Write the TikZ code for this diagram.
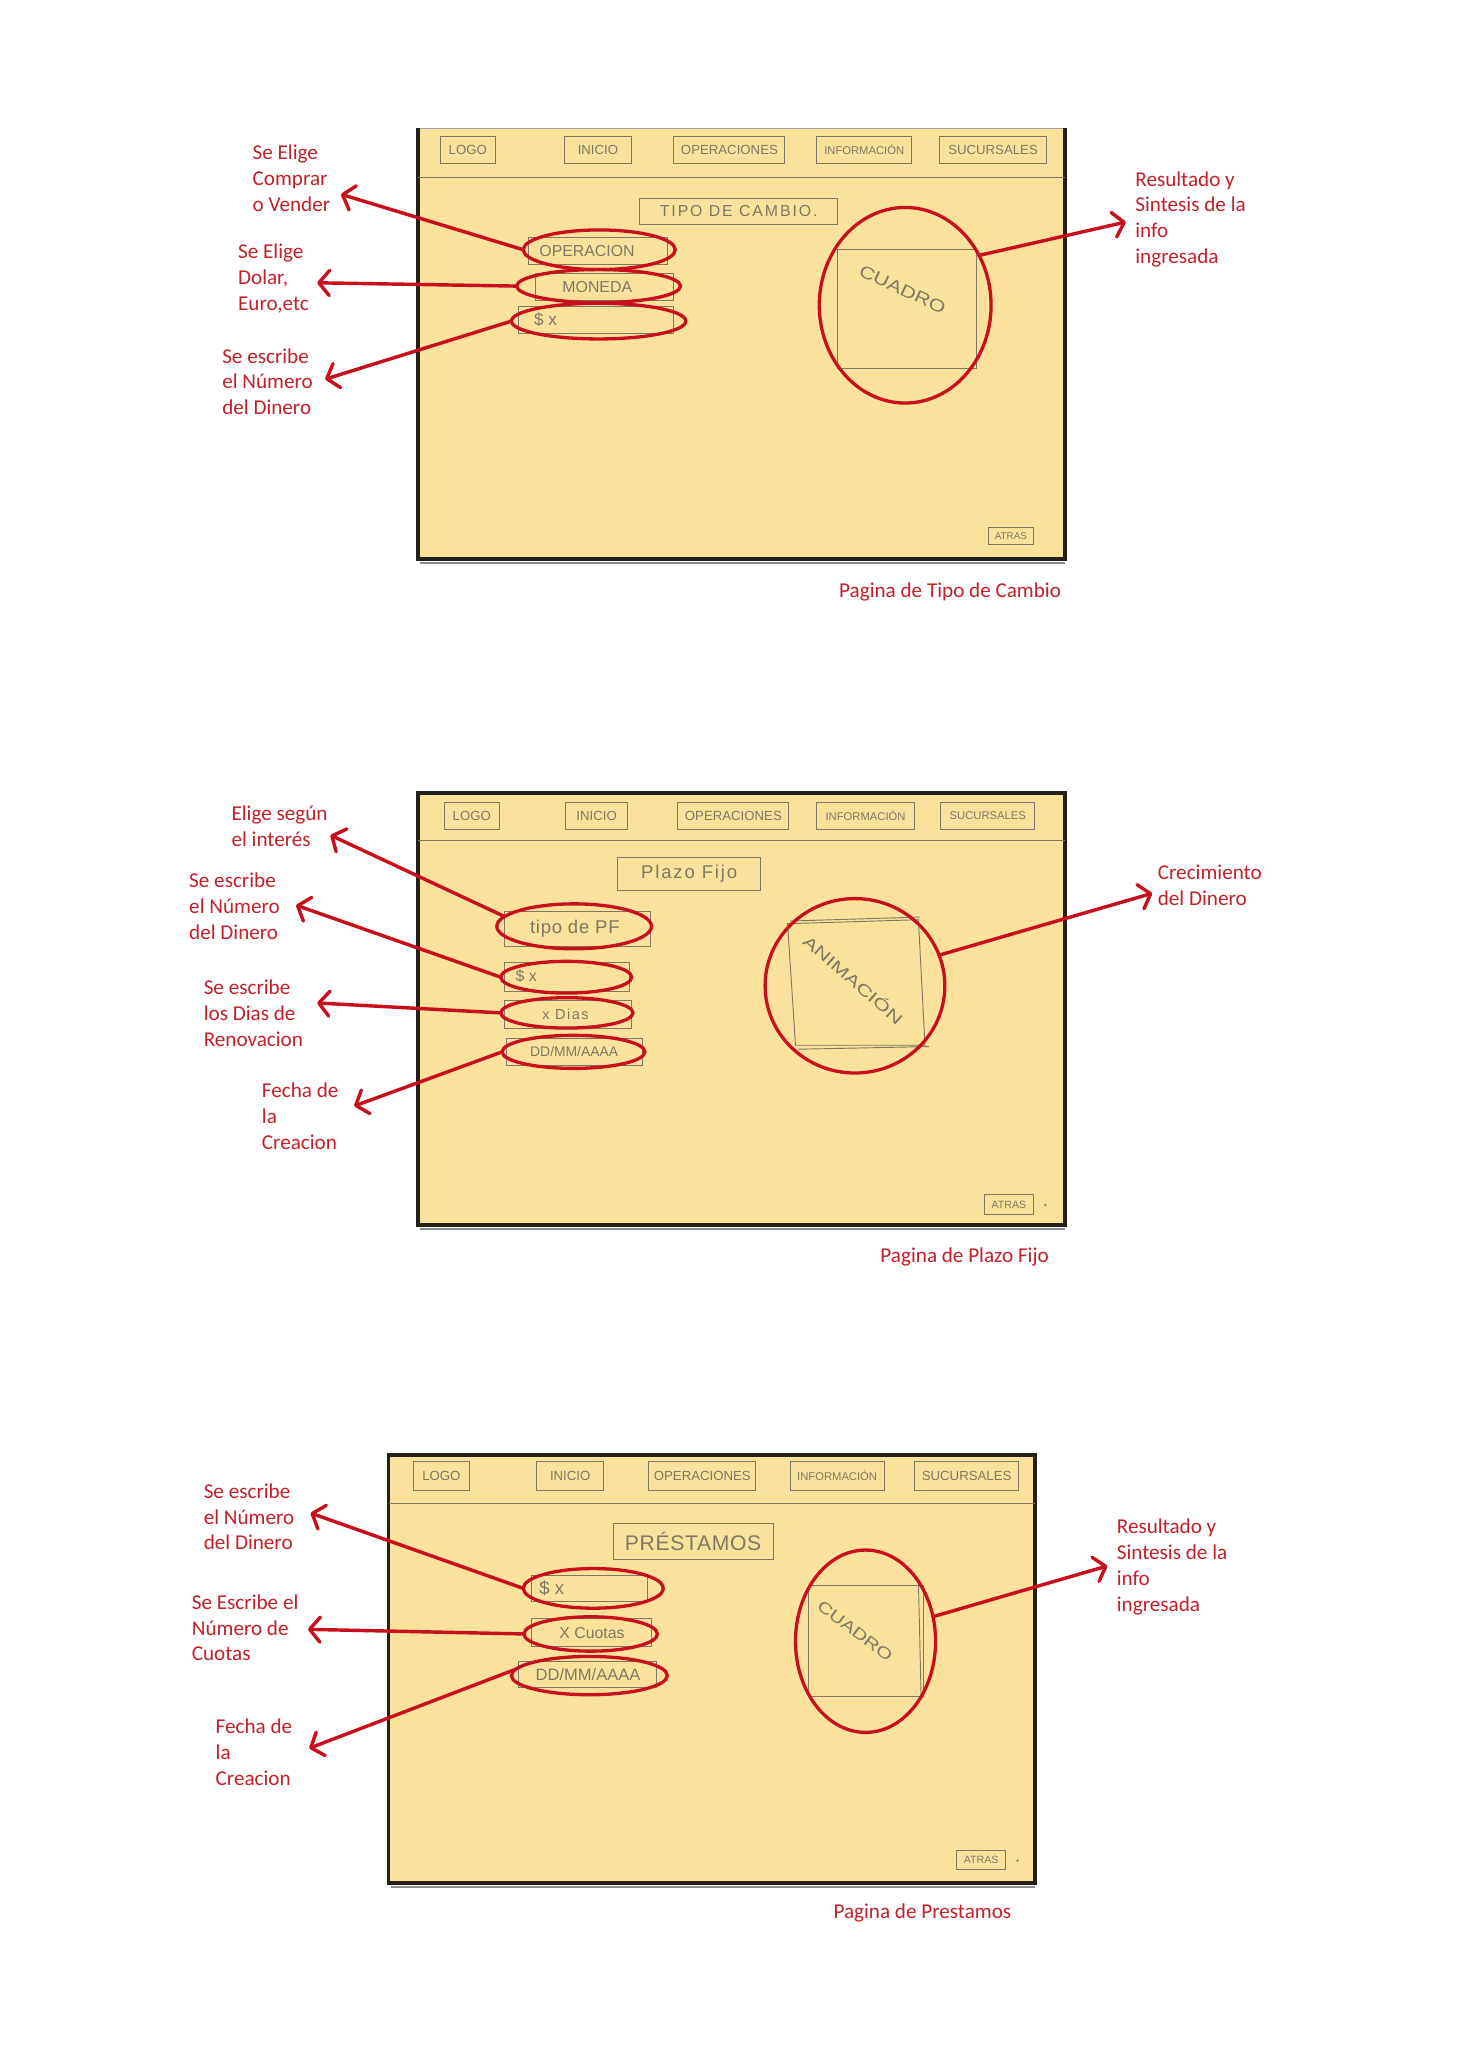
\documentclass[tikz,border=0pt]{standalone}
\usepackage{fontspec}
\setmainfont{Carlito}
\newfontfamily\pencilfont{Liberation Sans}
\usetikzlibrary{shapes.geometric,arrows.meta}
\definecolor{annred}{RGB}{200,16,28}
\definecolor{txtred}{RGB}{196,32,40}
\definecolor{paper}{RGB}{250,226,156}
\definecolor{pencil}{RGB}{128,120,100}
\definecolor{frameblk}{RGB}{38,32,26}
\begin{document}
\begin{tikzpicture}[x=1pt,y=-1pt,
 note/.style={font=\fontsize{16}{19.5}\selectfont, text=txtred, align=left, anchor=north west, inner sep=0pt},
 caption/.style={font=\fontsize{16}{19.5}\selectfont, text=txtred, inner sep=0pt},
 hoop/.style={ellipse, draw=annred, line width=2.5pt, inner sep=0pt, outer sep=0pt},
 arr/.style={draw=annred, line width=2.6pt, line cap=round, -{Straight Barb[length=8pt,width=19pt,round]}},
 sbox/.style={draw=pencil, line width=0.7pt, inner sep=0pt, text=pencil, font=\pencilfont\fontsize{10}{11}\selectfont},
 fbox/.style={draw=pencil, line width=0.7pt, inner sep=0pt},
 stext/.style={text=pencil, inner sep=0pt, font=\pencilfont\fontsize{11}{12}\selectfont},
 border/.style={draw=frameblk, line width=3pt},
 shadow/.style={draw=black!45, line width=1.5pt},
 thinline/.style={draw=pencil, line width=0.7pt},
]
\useasboundingbox (0,0) rectangle (1117,1568);
\fill[white] (0,0) rectangle (1117,1568);

% ================= PANEL 1 =================
\fill[paper] (316,97) rectangle (806,423);
\draw[draw=frameblk!40, line width=0.8pt] (316,97) -- (806,97);
\draw[border] (316,97) -- (316,423) -- (806,423) -- (806,97);
\draw[shadow] (318,426) -- (806,426);
\draw[thinline] (316,134) -- (806,134);
\node[sbox, minimum width=42pt, minimum height=21pt] (a1) at (354,113.5) {LOGO};
\node[sbox, minimum width=51pt, minimum height=21pt] (a2) at (452.5,113.5) {INICIO};
\node[sbox, minimum width=84pt, minimum height=21pt] (a3) at (552,113.5) {OPERACIONES};
\node[sbox, minimum width=72pt, minimum height=21pt, font=\pencilfont\fontsize{8.5}{9}\selectfont] (a4) at (654,113.5) {INFORMACIÓN};
\node[sbox, minimum width=81pt, minimum height=21pt] (a5) at (751.5,113.5) {SUCURSALES};
\node[sbox, minimum width=150pt, minimum height=20pt, font=\pencilfont\fontsize{12}{13}\selectfont\addfontfeature{LetterSpace=12}] (a6) at (559,160) {TIPO DE CAMBIO.};
\node[fbox, minimum width=105pt, minimum height=20pt] (a7) at (452.5,190) {};
\node[stext, anchor=west, font=\pencilfont\fontsize{12}{13}\selectfont] (a7t) at (408,190) {OPERACION};
\node[fbox, minimum width=105pt, minimum height=20pt] (a8) at (457.5,217) {};
\node[stext, font=\pencilfont\fontsize{12}{13}\selectfont] (a8t) at (452,217) {MONEDA};
\node[fbox, minimum width=118pt, minimum height=20pt] (a9) at (451,242) {};
\node[stext, anchor=west, font=\pencilfont\fontsize{13}{14}\selectfont] (a9t) at (404,242) {\$ x};
\draw[thinline] (634,189) rectangle (739,279);
\node[stext, rotate=-25, font=\pencilfont\fontsize{13}{14}\selectfont\addfontfeature{FakeStretch=1.25}] (a10) at (683,219) {CUADRO};
\node[sbox, minimum width=34pt, minimum height=13pt, font=\pencilfont\fontsize{7.5}{8}\selectfont] (a11) at (765,405.5) {ATRAS};

\node[hoop, minimum width=115pt, minimum height=30pt] (e1) at (453.5,189) {};
\node[hoop, minimum width=124pt, minimum height=25pt] (e2) at (453,216.5) {};
\node[hoop, minimum width=132pt, minimum height=27pt] (e3) at (453,243) {};
\node[hoop, minimum width=130pt, minimum height=148pt] (c1) at (685,231) {};

\node[note] (l1) at (191,109.5) {Se Elige\\Comprar\\o Vender};
\node[note] (l2) at (180,184.5) {Se Elige\\Dolar,\\Euro,etc};
\node[note] (l3) at (168,263.5) {Se escribe\\el Número\\del Dinero};
\node[note] (r1) at (859,129.5) {Resultado y\\Sintesis de la\\info\\ingresada};
\node[caption] (cap1) at (719,448) {Pagina de Tipo de Cambio};

\coordinate (t1) at (258,147);
\coordinate (t2) at (240,214);
\coordinate (t3) at (246,287);
\coordinate (tr1) at (852,168);
\draw[arr] (e1.west) -- (t1);
\draw[arr] (e2.west) -- (t2);
\draw[arr] (e3.west) -- (t3);
\draw[arr] (c1.34) -- (tr1);

% ================= PANEL 2 =================
\fill[paper] (316,600) rectangle (806,927);
\draw[border] (316,600) rectangle (806,927);
\draw[shadow] (318,930) -- (806,930);
\draw[thinline] (316,636) -- (806,636);
\node[sbox, minimum width=42pt, minimum height=21pt] (b1) at (357,617.5) {LOGO};
\node[sbox, minimum width=47pt, minimum height=21pt] (b2) at (451.5,617.5) {INICIO};
\node[sbox, minimum width=84pt, minimum height=21pt] (b3) at (555,617.5) {OPERACIONES};
\node[sbox, minimum width=74pt, minimum height=21pt, font=\pencilfont\fontsize{8.5}{9}\selectfont] (b4) at (655,617.5) {INFORMACIÓN};
\node[sbox, minimum width=71pt, minimum height=21pt, font=\pencilfont\fontsize{8.5}{9}\selectfont] (b5) at (747.5,617.5) {SUCURSALES};
\node[sbox, minimum width=108pt, minimum height=25pt, font=\pencilfont\fontsize{14}{15}\selectfont\addfontfeature{LetterSpace=10}] (b6) at (521.5,661.5) {Plazo Fijo};
\node[fbox, minimum width=110pt, minimum height=26pt] (b7) at (437,703) {};
\node[stext, font=\pencilfont\fontsize{14}{15}\selectfont\addfontfeature{LetterSpace=4}] (b7t) at (435,703) {tipo de PF};
\node[fbox, minimum width=94pt, minimum height=22pt] (b8) at (429,739) {};
\node[stext, anchor=west, font=\pencilfont\fontsize{12}{13}\selectfont] (b8t) at (390,739) {\$ x};
\node[fbox, minimum width=96pt, minimum height=21pt] (b9) at (430,767.5) {};
\node[stext, font=\pencilfont\fontsize{11}{12}\selectfont\addfontfeature{LetterSpace=10}] (b9t) at (428,767.5) {x Dias};
\node[fbox, minimum width=103pt, minimum height=20pt] (b10) at (434.5,796) {};
\node[stext, font=\pencilfont\fontsize{10.5}{11}\selectfont] (b10t) at (434.5,796) {DD/MM/AAAA};
\draw[thinline] (596,699) -- (695,696) -- (700,791) -- (602,791) -- cycle;
\draw[thinline] (598,697) -- (696,694);
\draw[thinline] (604,794) -- (703,792);
\node[stext, rotate=-41, font=\pencilfont\fontsize{12}{13}\selectfont\addfontfeature{FakeStretch=1.4}] (b11) at (646,741) {ANIMACIÓN};
\node[sbox, minimum width=37pt, minimum height=15pt, font=\pencilfont\fontsize{8}{9}\selectfont] (b12) at (763.5,911.5) {ATRAS};
\fill[pencil] (791,912) circle (1pt);

\node[hoop, minimum width=117pt, minimum height=34pt] (f1) at (434.5,701) {};
\node[hoop, minimum width=99pt, minimum height=24pt] (f2) at (428.5,739.5) {};
\node[hoop, minimum width=100pt, minimum height=23pt] (f3) at (429,766.5) {};
\node[hoop, minimum width=108pt, minimum height=25pt] (f4) at (434,796) {};
\node[hoop, minimum width=136pt, minimum height=132pt] (c2) at (647,746) {};

\node[note] (m1) at (175,609.5) {Elige según\\el interés};
\node[note] (m2) at (143,660.5) {Se escribe\\el Número\\del Dinero};
\node[note] (m3) at (154,741.5) {Se escribe\\los Dias de\\Renovacion};
\node[note] (m4) at (198,819.5) {Fecha de\\la\\Creacion};
\node[note] (mr) at (876,654.5) {Crecimiento\\del Dinero};
\node[caption] (cap2) at (730,951) {Pagina de Plazo Fijo};

\coordinate (u1) at (250,632);
\coordinate (u2) at (224,685);
\coordinate (u3) at (240,759);
\coordinate (u4) at (268,837);
\coordinate (ur) at (872,676);
\draw[arr] (f1.172) -- (u1);
\draw[arr] (f2.west) -- (u2);
\draw[arr] (f3.west) -- (u3);
\draw[arr] (f4.west) -- (u4);
\draw[arr] (c2.20) -- (ur);

% ================= PANEL 3 =================
\fill[paper] (294,1101) rectangle (783,1425);
\draw[border] (294,1101) rectangle (783,1425);
\draw[shadow] (296,1428) -- (783,1428);
\draw[thinline] (294,1138) -- (783,1138);
\node[sbox, minimum width=42pt, minimum height=22pt] (d1) at (334,1117) {LOGO};
\node[sbox, minimum width=51pt, minimum height=22pt] (d2) at (431.5,1117) {INICIO};
\node[sbox, minimum width=81pt, minimum height=22pt] (d3) at (531.5,1117) {OPERACIONES};
\node[sbox, minimum width=71pt, minimum height=22pt, font=\pencilfont\fontsize{8.5}{9}\selectfont] (d4) at (633.5,1117) {INFORMACIÓN};
\node[sbox, minimum width=79pt, minimum height=22pt] (d5) at (731.5,1117) {SUCURSALES};
\node[sbox, minimum width=121pt, minimum height=27pt, font=\pencilfont\fontsize{16}{17}\selectfont\addfontfeature{LetterSpace=3}] (d6) at (524.5,1166.5) {PRÉSTAMOS};
\node[fbox, minimum width=88pt, minimum height=20pt] (d7) at (446,1202) {};
\node[stext, font=\pencilfont\fontsize{14}{15}\selectfont, anchor=west] (d7t) at (408,1202) {\$ x};
\node[fbox, minimum width=91pt, minimum height=21pt] (d8) at (447.5,1235.5) {};
\node[stext, font=\pencilfont\fontsize{12}{13}\selectfont] (d8t) at (448,1235.5) {X Cuotas};
\node[fbox, minimum width=105pt, minimum height=20pt] (d9) at (444.5,1267) {};
\node[stext, font=\pencilfont\fontsize{12.5}{13}\selectfont] (d9t) at (445,1267) {DD/MM/AAAA};
\draw[thinline] (612,1200) rectangle (699,1284);
\draw[thinline] (695,1196) -- (697,1282);
\node[stext, rotate=-37, font=\pencilfont\fontsize{12}{13}\selectfont\addfontfeature{FakeStretch=1.3}] (d10) at (647,1234) {CUADRO};
\node[sbox, minimum width=37pt, minimum height=15pt, font=\pencilfont\fontsize{8}{9}\selectfont] (d11) at (742.5,1407.5) {ATRAS};
\fill[pencil] (770,1408) circle (1pt);

\node[hoop, minimum width=106pt, minimum height=30pt] (g1) at (449,1202) {};
\node[hoop, minimum width=101pt, minimum height=26pt] (g2) at (447,1236.5) {};
\node[hoop, minimum width=118pt, minimum height=29pt] (g3) at (446,1268) {};
\node[hoop, minimum width=106pt, minimum height=138pt] (c3) at (655,1242) {};

\node[note] (n1) at (154,1122.5) {Se escribe\\el Número\\del Dinero};
\node[note] (n2) at (145,1206.5) {Se Escribe el\\Número de\\Cuotas};
\node[note] (n3) at (163,1300.5) {Fecha de\\la\\Creacion};
\node[note] (nr) at (845,1149.5) {Resultado y\\Sintesis de la\\info\\ingresada};
\node[caption] (cap3) at (698,1448) {Pagina de Prestamos};

\coordinate (v1) at (235,1145);
\coordinate (v2) at (233,1233);
\coordinate (v3) at (234,1323);
\coordinate (vr) at (838,1185);
\draw[arr] (g1.west) -- (v1);
\draw[arr] (g2.west) -- (v2);
\draw[arr] (g3.175) -- (v3);
\draw[arr] (c3.20) -- (vr);
\end{tikzpicture}
\end{document}
